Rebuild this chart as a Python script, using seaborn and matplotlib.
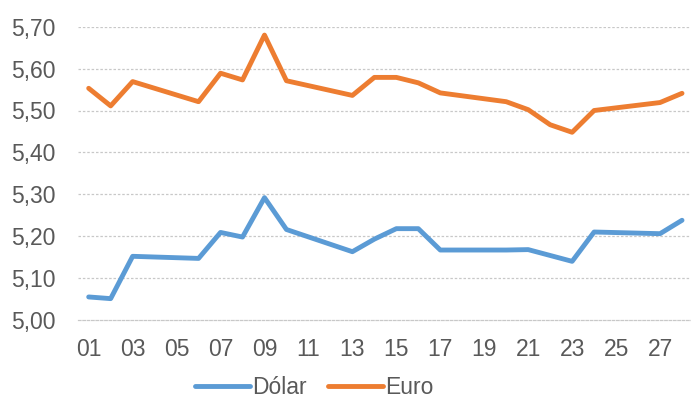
import pandas as pd
import matplotlib
matplotlib.use("Agg")
import matplotlib.pyplot as plt
import seaborn as sns
from matplotlib.ticker import FixedLocator, FuncFormatter

# dias úteis do mês e cotações (R$)
days = [1, 2, 3, 6, 7, 8, 9, 10, 13, 14, 15, 16, 17, 20, 21, 22, 23, 24, 27, 28]
dolar = [5.055, 5.051, 5.152, 5.147, 5.209, 5.198, 5.292, 5.216, 5.163, 5.193,
         5.218, 5.218, 5.167, 5.167, 5.168, 5.154, 5.140, 5.210, 5.206, 5.238]
euro = [5.553, 5.511, 5.569, 5.521, 5.589, 5.573, 5.680, 5.571, 5.536, 5.579,
        5.579, 5.566, 5.542, 5.521, 5.502, 5.466, 5.448, 5.500, 5.519, 5.541]
series_names = ["Dólar", "Euro"]
y_ticks = [5.00, 5.10, 5.20, 5.30, 5.40, 5.50, 5.60, 5.70]
x_labels = list(range(1, 28, 2))

sns.set_style("white")
plt.rcParams['font.family'] = ['Liberation Sans', 'DejaVu Sans']

df = pd.concat([
    pd.DataFrame({'dia': days, 'valor': dolar, 'moeda': series_names[0]}),
    pd.DataFrame({'dia': days, 'valor': euro, 'moeda': series_names[1]}),
])

fig = plt.figure(figsize=(6.91, 4.01), dpi=100)
ax = fig.add_axes([77.7 / 691, (401 - 320) / 401, (693 - 77.7) / 691, (320 - 26.7) / 401])

sns.lineplot(data=df, x='dia', y='valor', hue='moeda', hue_order=series_names,
             palette=['#5B9BD5', '#ED7D31'], linewidth=3.5, ax=ax,
             solid_joinstyle='round', solid_capstyle='round')

ax.set_xlim(0.5, 28.5)
ax.set_ylim(5.0, 5.7)
ax.set_xlabel('')
ax.set_ylabel('')

grey = '#595959'
ax.yaxis.set_major_locator(FixedLocator(y_ticks))
ax.yaxis.set_major_formatter(FuncFormatter(lambda v, p: f"{v:.2f}".replace('.', ',')))
ax.xaxis.set_major_locator(FixedLocator(x_labels))
ax.xaxis.set_major_formatter(FuncFormatter(lambda v, p: f"{int(round(v)):02d}"))
ax.xaxis.set_minor_locator(FixedLocator([d + 0.5 for d in range(0, 29, 2)]))

ax.tick_params(axis='y', length=0, pad=16, labelsize=16.5, labelcolor=grey)
ax.tick_params(axis='x', which='major', length=0, pad=13, labelsize=16.5, labelcolor=grey)
ax.tick_params(axis='x', which='minor', length=5, width=1, color='#BFBFBF', direction='out')

for yv in y_ticks[1:]:
    ax.axhline(yv, color='#C8C8C8', linewidth=0.9, linestyle=(0, (2, 1.5)), zorder=0)

for s in ['top', 'right', 'left']:
    ax.spines[s].set_visible(False)
ax.spines['bottom'].set_color('#C8C8C8')
ax.spines['bottom'].set_linewidth(0.9)
ax.spines['bottom'].set_linestyle((0, (2, 1.5)))

leg = ax.legend(loc='center', bbox_to_anchor=(0.455, 0.033), bbox_transform=fig.transFigure,
                ncol=2, frameon=False, fontsize=16.5, handlelength=2.4, handletextpad=0.12,
                columnspacing=0.9, borderpad=0)
for t in leg.get_texts():
    t.set_color(grey)
for h in leg.get_lines():
    h.set_linewidth(3.5)

fig.savefig('out.png', dpi=100)
